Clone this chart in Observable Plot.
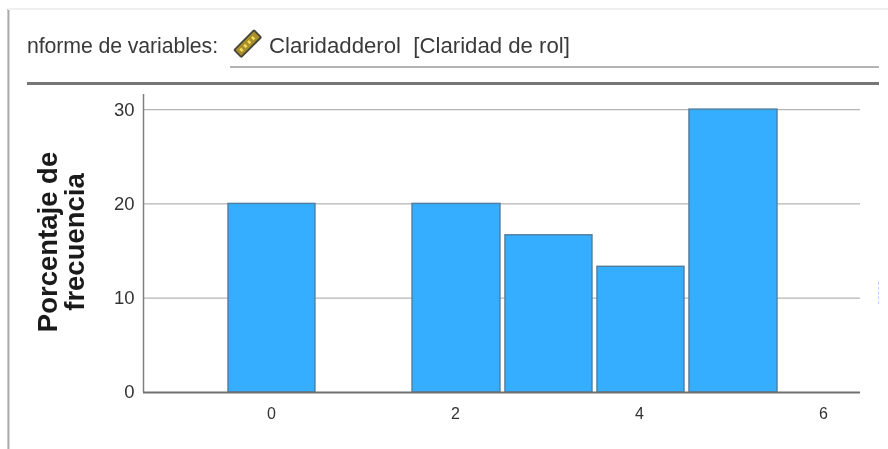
<!DOCTYPE html>
<html>
<head>
<meta charset="utf-8">
<script src="https://cdn.jsdelivr.net/npm/d3@7"></script>
<script src="https://cdn.jsdelivr.net/npm/@observablehq/plot@0.6"></script>
<style>
  html, body { margin: 0; padding: 0; background: #fff; }
  #page { position: relative; width: 888px; height: 449px; overflow: hidden; font-family: "Liberation Sans", Arial, sans-serif; color: #333; }
  #chart { position: absolute; left: 0; top: 0; filter: blur(0.4px); }
  #chart svg { display: block; }
  .hdr { position: absolute; white-space: pre; line-height: 24px; color: #3a3a3a; filter: blur(0.3px); }
  .line { position: absolute; }
</style>
</head>
<body>
<div id="page">
  <div id="chart"></div>
  <div class="line" style="left:7px;top:9px;width:3px;height:440px;background:linear-gradient(90deg,#ddd,#aaa,#eee)"></div>
  <div class="line" style="left:8px;top:8px;width:880px;height:2px;background:#efefef"></div>
  <div class="hdr" style="left:27px;top:34px;font-size:21.3px;letter-spacing:-0.1px">nforme de variables:</div>
  <svg class="line" style="left:232px;top:28px;filter:blur(0.4px)" width="32" height="32" viewBox="0 0 32 32">
    <g transform="rotate(-45 16 16)">
      <rect x="2" y="10.5" width="28" height="10" rx="1" fill="#a98f2c" stroke="#45453a" stroke-width="1.8"/>
      <path d="M6 15.5h2.5M11.5 15.5h2.5M17 15.5h2.5M22.5 15.5h2.5" stroke="#f4dc5c" stroke-width="3.4"/>
    </g>
  </svg>
  <div class="hdr" style="left:269px;top:34px;font-size:22.2px">Claridadderol  [Claridad de rol]</div>
  <div class="line" style="left:230px;top:66px;width:649px;height:2px;background:#b4b4b4"></div>
  <div class="line" style="left:27px;top:82px;width:852px;height:3px;background:#777"></div>
  <div class="line" style="left:878px;top:282px;width:0;height:22px;border-left:1px dashed #bcd4ff"></div>
</div>
<script>
const binStarts = [-0.467, 1.533, 2.543, 3.543, 4.543];
const binEnds = [0.478, 2.489, 3.489, 4.489, 5.5];
const percentages = [20, 20, 16.67, 13.33, 30];
const xTicks = [0, 2, 4, 6];
const yTicks = [0, 10, 20, 30];
const gridValues = [10, 20, 30];
const yTitle = "Porcentaje de\nfrecuencia";

const bars = binStarts.map((x1, i) => ({x1, x2: binEnds[i], y: percentages[i]}));

const chart = Plot.plot({
  width: 888,
  height: 449,
  marginLeft: 143,
  marginRight: 28,
  marginTop: 94,
  marginBottom: 57,
  style: {background: "transparent", fontFamily: "'Liberation Sans', Arial, sans-serif"},
  x: {domain: [-1.391, 6.402], ticks: xTicks, label: null},
  y: {domain: [0, 31.6], ticks: yTicks, label: null},
  marks: [
    Plot.ruleY(gridValues, {stroke: "#b5b5b5", strokeWidth: 1.3}),
    Plot.rectY(bars, {x1: "x1", x2: "x2", y1: 0, y2: "y", fill: "#35aeff", stroke: "#4f7d9e", strokeWidth: 1.4}),
    Plot.ruleX([-1.391], {stroke: "#808080", strokeWidth: 1.5}),
    Plot.ruleY([0], {stroke: "#707070", strokeWidth: 1.8}),
    Plot.axisX({ticks: xTicks, tickSize: 0, tickPadding: 15, fontSize: 16, color: "#333", label: null}),
    Plot.axisY({ticks: yTicks, tickSize: 0, tickPadding: 9, fontSize: 18.5, color: "#333", label: null}),
    Plot.text([yTitle], {
      frameAnchor: "middle", textAnchor: "middle", dx: -440.5, dy: -1.5, rotate: -90,
      fontSize: 27.5, fontWeight: "bold", fill: "#1a1a1a", lineHeight: 1.0
    })
  ]
});
document.getElementById("chart").appendChild(chart);
</script>
</body>
</html>
